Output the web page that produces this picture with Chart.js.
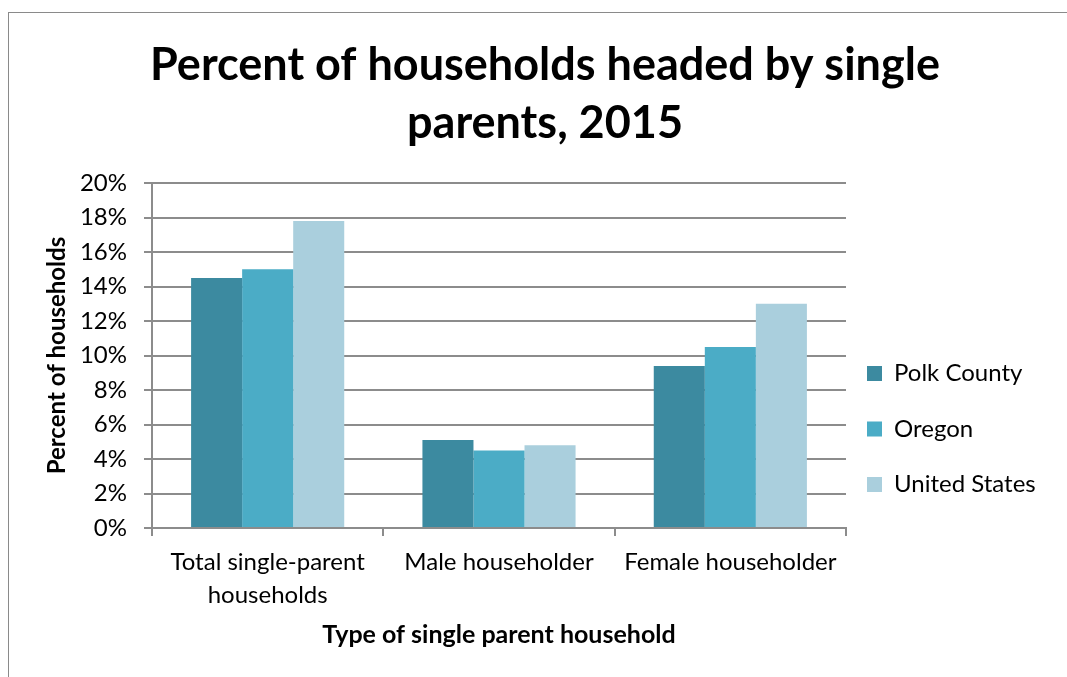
<!DOCTYPE html>
<html>
<head>
<meta charset="utf-8">
<script src="https://cdn.jsdelivr.net/npm/chart.js@4.4.1/dist/chart.umd.min.js"></script>
<style>
html,body{margin:0;padding:0;background:#ffffff;}
#wrap{width:1067px;height:677px;position:relative;overflow:hidden;}
</style>
</head>
<body>
<div id="wrap"><canvas id="c" width="1067" height="677"></canvas></div>
<script>
// ---- data ----
const categories = [["Total single-parent", "households"], "Male householder", "Female householder"];
const seriesNames = ["Polk County", "Oregon", "United States"];
const polkCounty = [14.5, 5.1, 9.4];
const oregon = [15.0, 4.5, 10.5];
const unitedStates = [17.8, 4.8, 13.0];
const yMin = 0, yMax = 20, yStep = 2;
const titleLines = ["Percent of households headed by single", "parents, 2015"];
const xTitle = "Type of single parent household";
const yTitle = "Percent of households";

// ---- styles ----
const seriesColors = ["#3C8AA0", "#4BACC6", "#AACFDD"];
const FONT = "Lato, 'Open Sans', sans-serif";
const gridColor = "#8c8c8c";

const borderPlugin = {
  id: "outerBorder",
  beforeDraw(chart) {
    const ctx = chart.ctx;
    ctx.save();
    ctx.fillStyle = "#ffffff";
    ctx.fillRect(0, 0, chart.width, chart.height);
    ctx.strokeStyle = "#8a8a8a";
    ctx.lineWidth = 1;
    ctx.strokeRect(8.5, 12.5, 1200, 1000);
    ctx.restore();
  }
};
const legendShift = {
  id: "legendShift",
  afterLayout(chart) {
    const lg = chart.legend;
    if (lg) { lg.left -= 10.5; lg.right -= 10.5; }
  }
};

Chart.defaults.font.family = FONT;
Chart.defaults.color = "#000000";

const datasetsData = [polkCounty, oregon, unitedStates];
new Chart(document.getElementById("c"), {
  type: "bar",
  data: {
    labels: categories,
    datasets: seriesNames.map((name, i) => ({
      label: name,
      data: datasetsData[i],
      backgroundColor: seriesColors[i],
      borderWidth: 0,
      categoryPercentage: 0.662,
      barPercentage: 1.0
    }))
  },
  options: {
    responsive: false,
    animation: false,
    devicePixelRatio: 1,
    layout: { padding: { left: 35, right: 12, top: 0, bottom: 0 } },
    plugins: {
      tooltip: { enabled: false },
      title: {
        display: true,
        text: titleLines,
        color: "#000000",
        font: { size: 45, weight: "bold", family: FONT, lineHeight: 1.29 },
        padding: { top: 36, bottom: 31 }
      },
      legend: {
        display: true,
        position: "right",
        align: "end",
        fullSize: false,
        maxWidth: 209,
        labels: {
          boxWidth: 15,
          boxHeight: 15,
          padding: 31.5,
          color: "#000000",
          font: { size: 24, family: FONT }
        }
      }
    },
    scales: {
      x: {
        grid: {
          display: true,
          offset: true,
          drawOnChartArea: false,
          drawTicks: true,
          tickLength: 8,
          color: gridColor,
          lineWidth: 2
        },
        border: { display: true, color: gridColor, width: 2 },
        ticks: {
          color: "#000000",
          padding: 9.5,
          maxRotation: 0,
          autoSkip: false,
          font: { size: 24, family: FONT, lineHeight: 1.375 }
        },
        title: {
          display: true,
          text: xTitle,
          color: "#000000",
          font: { size: 25, weight: "bold", family: FONT },
          padding: { top: 0, bottom: 27 }
        },
        afterFit(scale) { scale.height = 149; }
      },
      y: {
        min: yMin,
        max: yMax,
        grid: {
          color: gridColor,
          lineWidth: 2,
          drawTicks: true,
          tickLength: 8
        },
        border: { display: true, color: gridColor, width: 2 },
        ticks: {
          stepSize: yStep,
          color: "#000000",
          padding: 17,
          font: { size: 24, family: FONT },
          callback: (v) => v + "%"
        },
        title: {
          display: true,
          text: yTitle,
          color: "#000000",
          font: { size: 24, weight: "bold", family: FONT },
          padding: { top: 7.6, bottom: 0 }
        },
        afterFit(scale) { scale.width = 117; }
      }
    }
  },
  plugins: [borderPlugin, legendShift]
});
</script>
</body>
</html>
